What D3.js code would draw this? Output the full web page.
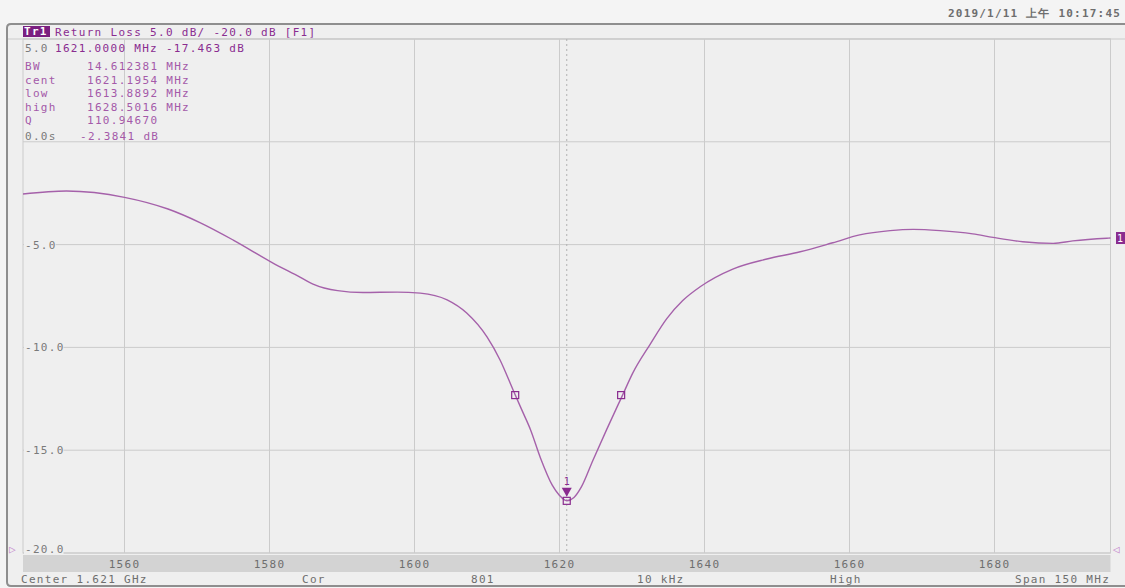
<!DOCTYPE html>
<html>
<head>
<meta charset="utf-8">
<script src="https://cdn.jsdelivr.net/npm/d3@7"></script>
<style>
  html, body { margin: 0; padding: 0; background: #f4f4f4; }
  svg { display: block; }
  text { font-family: "DejaVu Sans Mono", "Liberation Mono", monospace; font-size: 11px; letter-spacing: 1.3px; }
</style>
</head>
<body>
<svg id="chart" width="1125" height="588"></svg>
<script>
// ---- data ----
const freqMHz = [1546, 1552, 1560, 1566, 1570.4, 1575, 1580.3, 1584.2, 1586, 1589.4, 1592.9, 1597.6, 1600.8,
  1604.5, 1607.2, 1610, 1611.8, 1613.6, 1614.8, 1616, 1617.4, 1619, 1620, 1621, 1622, 1623, 1624.6, 1626.5,
  1628.7, 1630.1, 1632.5, 1634.8, 1637, 1639.4, 1643.9, 1648.6, 1653.2, 1657.7, 1661.4, 1665.6, 1668.8,
  1672.5, 1677, 1679.8, 1683.9, 1688.1, 1690.8, 1695.5, 1696];
const returnLossDb = [-2.54, -2.39, -2.70, -3.27, -3.93, -4.78, -5.86, -6.58, -6.92, -7.24, -7.33, -7.31, -7.36,
  -7.69, -8.33, -9.49, -10.61, -12.07, -13.04, -14.0, -15.4, -16.7, -17.2, -17.46, -17.3, -16.8, -15.5, -14.0,
  -12.32, -11.25, -9.85, -8.6, -7.72, -7.05, -6.19, -5.70, -5.35, -4.91, -4.53, -4.32, -4.26,
  -4.32, -4.48, -4.65, -4.86, -4.94, -4.82, -4.69, -4.68];
const xTicks = [1560, 1580, 1600, 1620, 1640, 1660, 1680];
const yTicks = [5, 0, -5, -10, -15, -20];
const yTickLabels = ["5.0", "0.0", "-5.0", "-10.0", "-15.0", "-20.0"];
const bwMarkerFreqs = [1613.8892, 1628.5016];
const bwMarkerDb = [-12.32, -12.32];
const mainMarkerFreq = 1621.0;
const mainMarkerDb = -17.463;
const readoutLabels = ["BW", "cent", "low", "high", "Q"];
const readoutValues = ["14.612381 MHz", "1621.1954 MHz", "1613.8892 MHz", "1628.5016 MHz", "110.94670"];
const footerTexts = ["Center 1.621 GHz", "Cor", "801", "10 kHz", "High", "Span 150 MHz"];
const footerX = [21, 302, 471, 637, 830, 1015];

// ---- layout ----
const svg = d3.select("#chart");
const L = 23, R = 1110.5, T = 39, B = 553;
const x = d3.scaleLinear().domain([1546, 1696]).range([L, R]);
const y = d3.scaleLinear().domain([-20, 5]).range([B, T]);
const purple = "#8a2c8f", trace = "#a561aa", gray = "#7a7a7a", grid = "#cbcbcb", mark = "#a45aa9";

// date
svg.append("text").attr("x", 948).attr("y", 17).attr("fill", "#6e6e6e")
  .style("font-weight", "bold").style("letter-spacing", "1.2px")
  .text("2019/1/11 上午 10:17:45");

// frame
svg.append("path")
  .attr("d", `M1130,24 L11,24 Q7,24 7,28 L7,582 Q7,586 11,586 L1130,586`)
  .attr("fill", "#efefef").attr("stroke", "#8e8e8e").attr("stroke-width", 2);

// plot area
svg.append("rect").attr("x", L).attr("y", T).attr("width", R - L).attr("height", B - T)
  .attr("fill", "#efefef").attr("stroke", grid).attr("stroke-width", 1);
svg.append("line").attr("x1", 8).attr("x2", 1125).attr("y1", T).attr("y2", T)
  .attr("stroke", grid);

// gridlines
svg.append("g").selectAll("line").data(xTicks).join("line")
  .attr("x1", d => x(d)).attr("x2", d => x(d)).attr("y1", T).attr("y2", B)
  .attr("stroke", grid).attr("stroke-width", 1);
svg.append("g").selectAll("line").data(yTicks).join("line")
  .attr("x1", L).attr("x2", R).attr("y1", d => y(d)).attr("y2", d => y(d))
  .attr("stroke", grid).attr("stroke-width", 1);

// marker dotted line
svg.append("line").attr("x1", x(mainMarkerFreq)).attr("x2", x(mainMarkerFreq))
  .attr("y1", T).attr("y2", B).attr("stroke", "#b0b0b0").attr("stroke-dasharray", "2,3");

// y labels (5.0 and 0.0 are drawn inside the readout rows)
const yl = svg.append("g");
yTicks.forEach((d, i) => {
  if (i < 2) return;
  const last = i === yTicks.length - 1;
  const yy = y(d) + (last ? -4 : 0);
  const w = yTickLabels[i].length * 7.9;
  yl.append("rect").attr("x", L + 1).attr("y", yy - 6).attr("width", w).attr("height", 12).attr("fill", "#efefef");
  yl.append("text").attr("x", L + 2).attr("y", yy + 4).attr("fill", gray).text(yTickLabels[i]);
});

// bottom band & x tick labels
svg.append("rect").attr("x", L).attr("y", 555).attr("width", R - L).attr("height", 17).attr("fill", "#d3d3d3");
svg.append("g").selectAll("text").data(xTicks).join("text")
  .attr("x", d => x(d)).attr("y", 568).attr("text-anchor", "middle").attr("fill", "#6e6e6e")
  .text(d => d);

// footer
svg.append("g").selectAll("text").data(footerTexts).join("text")
  .attr("x", (d, i) => footerX[i]).attr("y", 583).attr("fill", "#6e6e6e").text(d => d);

// reference markers
svg.append("text").attr("x", 9).attr("y", y(-20)).attr("fill", "#c98fcf").text("▷");
svg.append("text").attr("x", 1113).attr("y", y(-20)).attr("fill", "#c98fcf").text("◁");

// trace
const line = d3.line().x(d => x(d[0])).y(d => y(d[1])).curve(d3.curveMonotoneX);
svg.append("path").datum(freqMHz.map((f, i) => [f, returnLossDb[i]]))
  .attr("d", line).attr("fill", "none").attr("stroke", trace).attr("stroke-width", 1.4);

// right-side trace marker box
const lastV = returnLossDb[returnLossDb.length - 1];
svg.append("rect").attr("x", 1116).attr("y", y(lastV) - 6).attr("width", 10).attr("height", 12).attr("fill", purple);
svg.append("text").attr("x", 1117).attr("y", y(lastV) + 4).attr("fill", "#fff").style("font-size", "10px").text("1");

// BW markers
svg.append("g").selectAll("rect").data(bwMarkerFreqs).join("rect")
  .attr("x", d => x(d) - 3.5).attr("y", (d, i) => y(bwMarkerDb[i]) - 3.5)
  .attr("width", 7).attr("height", 7).attr("fill", "none").attr("stroke", purple).attr("stroke-width", 1.2);

// main marker
const mx = x(mainMarkerFreq), my = y(mainMarkerDb);
svg.append("rect").attr("x", mx - 3.5).attr("y", my - 3.5).attr("width", 7).attr("height", 7)
  .attr("fill", "none").attr("stroke", purple).attr("stroke-width", 1.2);
svg.append("path").attr("d", `M${mx - 5},${my - 13} L${mx + 5},${my - 13} L${mx},${my - 4} Z`).attr("fill", purple);
svg.append("text").attr("x", mx - 3).attr("y", my - 16).attr("fill", purple).style("font-size", "10px").text("1");

// title row
svg.append("rect").attr("x", 23).attr("y", 26).attr("width", 27).attr("height", 11).attr("fill", "#7a1f80");
svg.append("text").attr("x", 24).attr("y", 35).attr("fill", "#fff").style("font-weight", "bold").text("Tr1");
svg.append("text").attr("x", 55).attr("y", 36).attr("fill", purple).text("Return Loss 5.0 dB/ -20.0 dB [F1]");

// readout
svg.append("text").attr("x", 25).attr("y", 52).attr("fill", gray).text(yTickLabels[0]);
svg.append("text").attr("x", 55).attr("y", 52).attr("fill", purple).text(`${mainMarkerFreq.toFixed(4)} MHz ${mainMarkerDb.toFixed(3)} dB`);
const ro = svg.append("g");
readoutLabels.forEach((lab, i) => {
  const yy = 70 + i * 13.5;
  ro.append("text").attr("x", 25).attr("y", yy).attr("fill", mark).text(lab);
  ro.append("text").attr("x", 87).attr("y", yy).attr("fill", mark).text(readoutValues[i]);
});
svg.append("text").attr("x", 25).attr("y", y(0) - 2).attr("fill", gray).text(yTickLabels[1] + "s");
svg.append("text").attr("x", 80).attr("y", y(0) - 2).attr("fill", mark).text("-2.3841 dB");
</script>
</body>
</html>
